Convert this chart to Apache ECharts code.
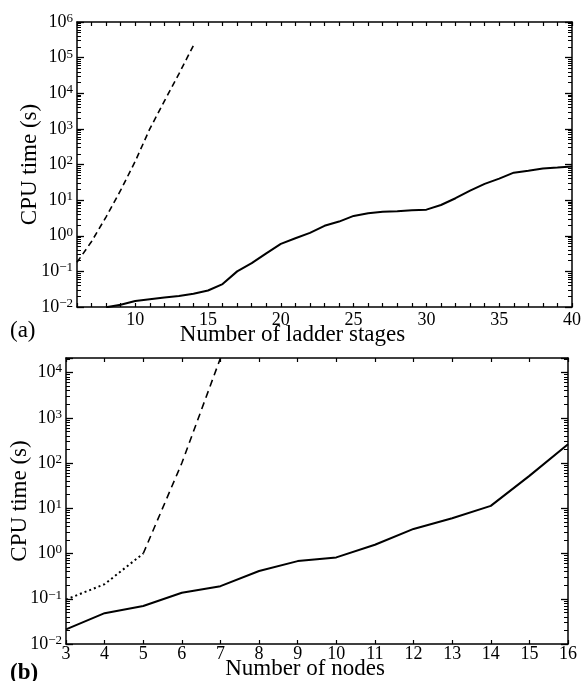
<!DOCTYPE html>
<html><head><meta charset="utf-8">
<script src="https://cdn.jsdelivr.net/npm/echarts@6/dist/echarts.min.js"></script>
<style>html,body{margin:0;padding:0;background:#fff}#c{width:584px;height:681px}</style>
</head><body><div id="c"></div>
<script>
// ---- Panel (a): CPU time vs number of ladder stages ----
const stagesSolid = [8,9,10,11,12,13,14,15,16,17,18,19,20,21,22,23,24,25,26,27,28,29,30,31,32,33,34,35,36,37,38,39,40];
const cpuSolidA   = [0.0098,0.0115,0.0148,0.0166,0.0186,0.0205,0.0235,0.029,0.044,0.10,0.17,0.32,0.59,0.85,1.2,1.9,2.5,3.6,4.3,4.7,4.9,5.2,5.4,7.3,11.3,18.5,28.5,40,59,67,77,82,88];
const stagesDashed = [6,7,8,9,10,11,12,13,14];
const cpuDashedA   = [0.18,0.69,3.4,19,123,1000,6000,35000,220000];

// ---- Panel (b): CPU time vs number of nodes ----
const nodesSolid = [3,4,5,6,7,8,9,10,11,12,13,14,15,16];
const cpuSolidB  = [0.021,0.048,0.069,0.136,0.19,0.41,0.68,0.82,1.56,3.5,6.0,11.3,52,260];
const nodesDotted = [3,4,5];
const cpuDottedB  = [0.096,0.21,1.0];
const nodesDashed = [5,6,7];
const cpuDashedB  = [1.0,100,21000];

const FONT = '"Liberation Serif","Times New Roman",serif';
const pairs = (xs, ys) => xs.map((x, i) => [x, ys[i]]);

function logLabel(v) {
  const l = Math.log10(v), e = Math.round(l);
  if (Math.abs(l - e) > 1e-6) return '';
  return '{b|10}{s|' + (e < 0 ? '\u2212' + (-e) : e) + '}';
}
const rich = {
  b: {fontFamily: FONT, fontSize: 18, lineHeight: 20, color: '#000'},
  s: {fontFamily: FONT, fontSize: 13, lineHeight: 13, verticalAlign: 'top', color: '#000'}
};

function xAx(grid, min, max, opts) {
  const main = {
    type: 'value', gridIndex: grid, min: min, max: max, interval: 1, position: 'bottom',
    axisLine: {show: true, onZero: false, lineStyle: {color: '#000', width: 1.5}},
    axisTick: {show: true, inside: true, length: 4, lineStyle: {color: '#000', width: 1.2}},
    splitLine: {show: false},
    axisLabel: Object.assign({color: '#000', fontFamily: FONT, fontSize: 18}, opts.label),
    name: opts.name, nameLocation: 'middle', nameGap: opts.nameGap, nameMoveOverlap: false,
    nameTextStyle: {color: '#000', fontFamily: FONT, fontSize: 23, padding: opts.namePad}
  };
  const top = {
    type: 'value', gridIndex: grid, min: min, max: max, interval: 1, position: 'top',
    axisLine: {show: true, onZero: false, lineStyle: {color: '#000', width: 1.5}},
    axisTick: {show: true, inside: true, length: 4, lineStyle: {color: '#000', width: 1.2}},
    splitLine: {show: false}, axisLabel: {show: false}
  };
  return [main, top];
}
function yAx(grid, min, max, opts) {
  const base = {
    type: 'log', logBase: 10, gridIndex: grid, min: min, max: max,
    axisLine: {show: true, lineStyle: {color: '#000', width: 1.5}},
    axisTick: {show: true, inside: true, length: 7, lineStyle: {color: '#000', width: 1.3}},
    minorTick: {show: true, splitNumber: 9, length: 4, lineStyle: {color: '#000', width: 1}},
    splitLine: {show: false}, minorSplitLine: {show: false}
  };
  const left = Object.assign({}, base, {
    position: 'left',
    axisLabel: {formatter: logLabel, rich: rich, margin: 4},
    name: 'CPU time (s)', nameLocation: 'middle', nameGap: opts.nameGap, nameMoveOverlap: false,
    nameTextStyle: {color: '#000', fontFamily: FONT, fontSize: 23}
  });
  const right = Object.assign({}, base, {position: 'right', axisLabel: {show: false}});
  return [left, right];
}

const xa = xAx(0, 6, 40, {
  name: 'Number of ladder stages', nameGap: 16, namePad: [0, 64, 0, 0],
  label: {margin: 4, formatter: v => (v % 5 === 0 ? String(v) : '')}
});
const xb = xAx(1, 3, 16, {
  name: 'Number of nodes', nameGap: 13, namePad: [0, 24, 0, 0],
  label: {margin: 1}
});
const ya = yAx(0, 0.01, 1e6, {nameGap: 36});
const yb = yAx(1, 0.01, 21000, {nameGap: 35});

const lineBase = {type: 'line', symbol: 'none', clip: true, silent: true, z: 3};
const option = {
  backgroundColor: '#fff',
  animation: false,
  title: [
    {text: '(a)', left: 5, top: 314, textStyle: {fontFamily: FONT, fontSize: 23, fontWeight: 'normal', color: '#000'}},
    {text: '(b)', left: 5, top: 657, textStyle: {fontFamily: FONT, fontSize: 23, fontWeight: 'bold', color: '#000'}}
  ],
  grid: [
    {left: 77, right: 11, top: 22, height: 285},
    {left: 66, right: 16, top: 358, height: 287.5}
  ],
  xAxis: [xa[0], xa[1], xb[0], xb[1]],
  yAxis: [ya[0], ya[1], yb[0], yb[1]],
  series: [
    Object.assign({}, lineBase, {name: 'a-solid', xAxisIndex: 0, yAxisIndex: 0,
      data: pairs(stagesSolid, cpuSolidA), lineStyle: {color: '#000', width: 2}}),
    Object.assign({}, lineBase, {name: 'a-dashed', xAxisIndex: 0, yAxisIndex: 0,
      data: pairs(stagesDashed, cpuDashedA), lineStyle: {color: '#000', width: 1.6, type: [6, 4]}}),
    Object.assign({}, lineBase, {name: 'b-solid', xAxisIndex: 2, yAxisIndex: 2,
      data: pairs(nodesSolid, cpuSolidB), lineStyle: {color: '#000', width: 2}}),
    Object.assign({}, lineBase, {name: 'b-dotted', xAxisIndex: 2, yAxisIndex: 2,
      data: pairs(nodesDotted, cpuDottedB), lineStyle: {color: '#000', width: 2, type: [2, 3]}}),
    Object.assign({}, lineBase, {name: 'b-dashed', xAxisIndex: 2, yAxisIndex: 2,
      data: pairs(nodesDashed, cpuDashedB), lineStyle: {color: '#000', width: 1.6, type: [7, 5]}})
  ]
};
const chart = echarts.init(document.getElementById('c'), null, {renderer: 'canvas'});
chart.setOption(option);
</script>
</body></html>
